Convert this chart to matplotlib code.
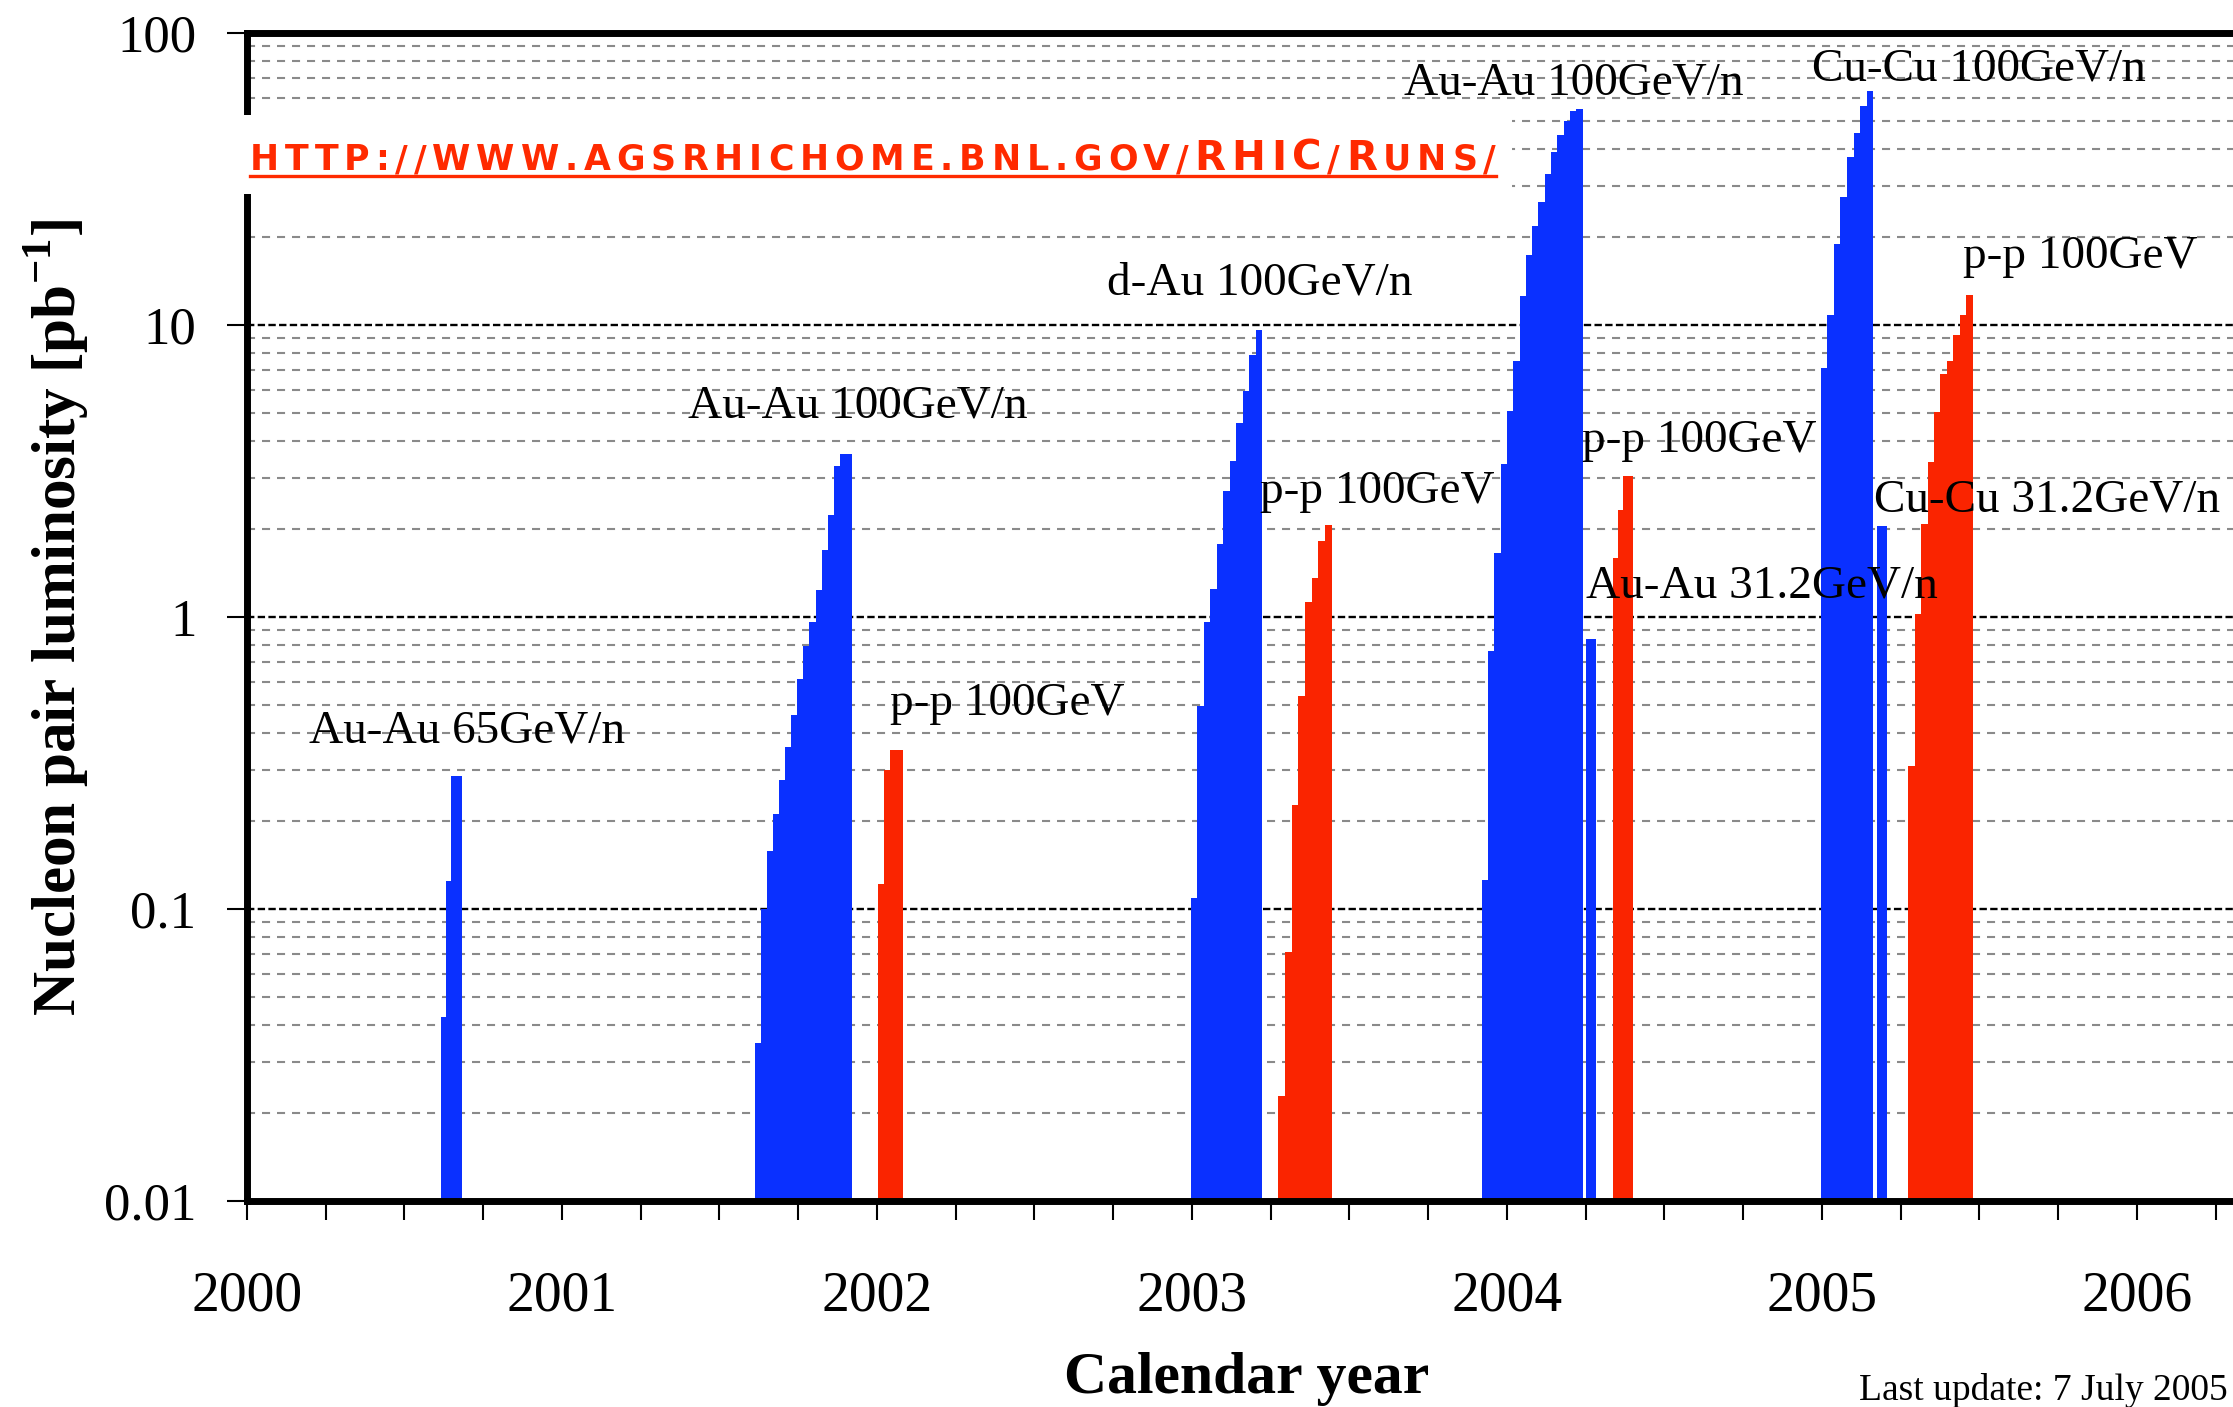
import numpy as np
import matplotlib
matplotlib.use("Agg")
import matplotlib.pyplot as plt
from matplotlib.ticker import FixedLocator, FuncFormatter, NullFormatter, LogLocator
from matplotlib.offsetbox import TextArea, HPacker, AnnotationBbox
from matplotlib.patches import Rectangle
from matplotlib.lines import Line2D

# RHIC runs: start / end as decimal calendar year, weekly integrated
# nucleon pair luminosity in pb^-1
run_names = ["Au-Au 65GeV/n", "Au-Au 100GeV/n", "p-p 100GeV", "d-Au 100GeV/n",
             "p-p 100GeV", "Au-Au 100GeV/n", "Au-Au 31.2GeV/n", "p-p 100GeV",
             "Cu-Cu 100GeV/n", "Cu-Cu 31.2GeV/n", "p-p 100GeV"]
run_species = ["ion", "ion", "pp", "ion", "pp", "ion", "ion", "pp", "ion", "ion", "pp"]
run_start = [2000.615, 2001.613, 2002.004, 2002.996, 2003.274, 2003.920,
             2004.250, 2004.336, 2004.996, 2005.174, 2005.274]
run_end = [2000.682, 2001.920, 2002.081, 2003.223, 2003.443, 2004.240,
           2004.283, 2004.401, 2005.163, 2005.207, 2005.478]

lumi_auau_2000 = [0.0427, 0.125, 0.285, 0.285]
lumi_auau_2001 = [0.0347, 0.0997, 0.158, 0.211, 0.277, 0.359, 0.461, 0.613,
                  0.794, 0.962, 1.236, 1.70, 2.23, 3.28, 3.61, 3.61]
lumi_pp_2002 = [0.122, 0.299, 0.35, 0.35]
lumi_dau_2003 = [0.109, 0.494, 0.961, 1.247, 1.78, 2.71, 3.41, 4.62, 5.94, 7.89, 9.60]
lumi_pp_2003 = [0.0229, 0.0714, 0.227, 0.535, 1.127, 1.355, 1.82, 2.06]
lumi_auau_2004 = [0.126, 0.767, 1.66, 3.35, 5.06, 7.50, 12.6, 17.3, 21.9, 26.4,
                  33.0, 39.1, 44.7, 50.1, 53.9, 54.8]
lumi_auau31_2004 = [0.844]
lumi_pp_2004 = [1.59, 2.32, 3.05, 3.05]
lumi_cucu_2005 = [7.12, 10.8, 19.0, 27.4, 37.5, 45.3, 56.1, 63.4]
lumi_cucu31_2005 = [2.05]
lumi_pp_2005 = [0.310, 1.026, 2.09, 3.40, 5.04, 6.80, 7.55, 9.25, 10.8, 12.7]

run_lumi = [lumi_auau_2000, lumi_auau_2001, lumi_pp_2002, lumi_dau_2003,
            lumi_pp_2003, lumi_auau_2004, lumi_auau31_2004, lumi_pp_2004,
            lumi_cucu_2005, lumi_cucu31_2005, lumi_pp_2005]

years = [2000, 2001, 2002, 2003, 2004, 2005, 2006]
decades = [0.01, 0.1, 1, 10, 100]

# where each run label sits (year, pb^-1 at text baseline)
label_x = [2000.197, 2001.400, 2002.041, 2002.730, 2003.216, 2003.673,
           2004.251, 2004.238, 2004.968, 2005.165, 2005.448]
label_y = [0.373, 4.81, 0.461, 12.7, 2.46, 61.8, 1.17, 3.67, 69.0, 2.29, 15.7]

colors = {"ion": "#0A30FF", "pp": "#FA2400"}
url_color = "#FF2A00"

plt.rcParams['font.family'] = ['Liberation Serif', 'DejaVu Serif']
plt.rcParams['mathtext.fontset'] = 'custom'
plt.rcParams['mathtext.rm'] = 'Liberation Serif'
plt.rcParams['mathtext.bf'] = 'Liberation Serif:bold'
plt.rcParams['lines.scale_dashes'] = False

W, H = 2233, 1407
fig = plt.figure(figsize=(W / 100, H / 100), dpi=100)

ax = fig.add_axes([247 / W, (H - 1201) / H, 1 - 247 / W, (1201 - 33) / H])
ax.set_yscale('log')
ax.set_ylim(0.01, 100)
ax.set_xlim(2000, 2000 + (W - 247) / 315)

for start, end, vals, sp in zip(run_start, run_end, run_lumi, run_species):
    edges = np.linspace(start, end, len(vals) + 1)
    ax.stairs(vals, edges, baseline=1e-3, fill=True, color=colors[sp],
              linewidth=0, zorder=2)

for name, x, y in zip(run_names, label_x, label_y):
    ax.text(x, y, name, fontsize=34, ha='left', va='baseline', zorder=5)

# axes, ticks and grid
ax.set_axisbelow(True)
ax.yaxis.set_major_locator(FixedLocator(decades))
ax.yaxis.set_minor_locator(LogLocator(base=10, subs=np.arange(2, 10)))
ax.yaxis.set_major_formatter(FuncFormatter(lambda v, p: f'{v:g}'))
ax.yaxis.set_minor_formatter(NullFormatter())
ax.grid(True, which='major', axis='y', color='black',
        linestyle=(0, (5.3, 2.4)), linewidth=1.7)
ax.grid(True, which='minor', axis='y', color='#8a8a8a',
        linestyle=(0, (5.8, 5.0)), linewidth=1.5)
ax.tick_params(axis='y', which='minor', length=0)
ax.tick_params(axis='y', which='major', direction='out', length=14.4,
               width=1.5, pad=22, labelsize=38)
ax.set_xticks(years)
ax.set_xticklabels([str(y) for y in years])
ax.set_xticks(np.arange(2000, 2006.3, 0.25), minor=True)
ax.tick_params(axis='x', which='both', direction='out', length=13.7, width=1.5)
ax.tick_params(axis='x', which='major', pad=36, labelsize=40)

for side in ['top', 'bottom', 'left']:
    ax.spines[side].set_linewidth(5)
ax.spines['right'].set_visible(False)

fig.text(57 / W, 1 - 617 / H, r'Nucleon pair luminosity [pb$^{\mathbf{-1}}$]',
         rotation=90, ha='center', va='center', fontsize=44, weight='bold')
fig.text(1247 / W, 1 - 1393 / H, 'Calendar year', ha='center', va='baseline',
         fontsize=43, weight='bold')
fig.text(1859 / W, 1 - 1400 / H, 'Last update: 7 July 2005', ha='left',
         va='baseline', fontsize=27)

# link to the run pages, set in small caps on a white patch
fig.add_artist(Rectangle((235 / W, 1 - 194 / H), (1512 - 235) / W, (194 - 115) / H,
                         transform=fig.transFigure, facecolor='white',
                         edgecolor='none', zorder=5))
url = "http://www.agsrhichome.bnl.gov/RHIC/Runs/"
letters = []
for ch in url:
    size = 29.0 if ch.isupper() else 25.0
    letters.append(TextArea(ch.upper(), textprops=dict(color=url_color, fontsize=size,
                                                       family='DejaVu Sans',
                                                       weight='bold')))
pack = HPacker(children=letters, align='baseline', pad=0, sep=4.2)
ab = AnnotationBbox(pack, (250, H - 179), xycoords='figure pixels',
                    box_alignment=(0, 0), frameon=False, zorder=6)
fig.add_artist(ab)

fig.canvas.draw()
bb = pack.get_window_extent(fig.canvas.get_renderer())
fig.add_artist(Line2D([bb.x0 / W, bb.x1 / W], [1 - 176 / H, 1 - 176 / H],
                      transform=fig.transFigure, color=url_color, linewidth=2.4,
                      zorder=6))

fig.savefig('out.png', dpi=100)
